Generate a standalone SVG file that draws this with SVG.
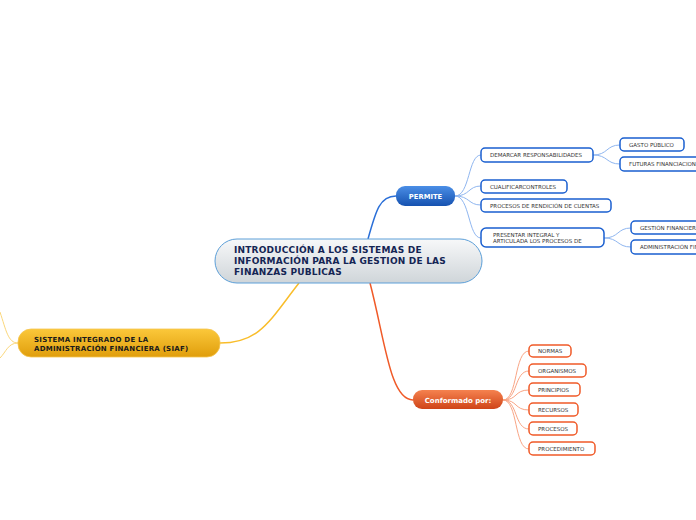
<svg xmlns="http://www.w3.org/2000/svg" width="696" height="520" viewBox="0 0 696 520">
<defs>
<linearGradient id="gCentral" x1="0" y1="0" x2="0" y2="1"><stop offset="0" stop-color="#f7f8f9"/><stop offset="1" stop-color="#cfd5d9"/></linearGradient>
<linearGradient id="gBlue" x1="0" y1="0" x2="0" y2="1"><stop offset="0" stop-color="#4a8ee6"/><stop offset="1" stop-color="#1652b0"/></linearGradient>
<linearGradient id="gOrange" x1="0" y1="0" x2="0" y2="1"><stop offset="0" stop-color="#f5824f"/><stop offset="1" stop-color="#cf4418"/></linearGradient>
<linearGradient id="gYellow" x1="0" y1="0" x2="0" y2="1"><stop offset="0" stop-color="#fbc83a"/><stop offset="1" stop-color="#e09e0c"/></linearGradient>
</defs>
<style>
text{font-family:"DejaVu Sans","Liberation Sans",sans-serif}
.leaf text{font-size:5.5px;fill:#333}
.bl rect{fill:#fff;stroke:#1a5fd0;stroke-width:1.5}
.or rect{fill:#fff;stroke:#f05a28;stroke-width:1.5}
.cb{fill:none;stroke:#8fb6f0;stroke-width:1}
.co{fill:none;stroke:#f9a585;stroke-width:1}
.main{fill:none;stroke-width:1.5}
.title{font-weight:bold;font-size:9px;letter-spacing:0.2px;fill:#142554}
.wt{font-weight:bold;fill:#fff;text-anchor:middle}
</style>
<rect width="696" height="520" fill="#fff"/>
<g id="connectors">
<path class="main" stroke="#2a6fd8" d="M368 239 C376 210,380 196,396 196"/>
<path class="main" stroke="#f05a28" d="M370 283 C385 340,390 400,413 400"/>
<path class="main" stroke="#f9bd2a" d="M299 283 C270 320,260 343,220 343"/>
<path d="M18 343 C8 343,6 330,0 312 M18 343 C8 343,6 352,0 358" fill="none" stroke="#fbd77a" stroke-width="1"/>
<path class="cb" d="M455 196 C470 196,468 155,481 155"/>
<path class="cb" d="M455 196 C470 196,468 186,481 186"/>
<path class="cb" d="M455 196 C470 196,468 205,481 205"/>
<path class="cb" d="M455 196 C470 196,468 238,481 238"/>
<path class="cb" d="M593 155 C608 155,606 145,620 145"/>
<path class="cb" d="M593 155 C608 155,606 164,620 164"/>
<path class="cb" d="M604 238 C619 238,617 228,631 228"/>
<path class="cb" d="M604 238 C619 238,617 247,631 247"/>
<path class="co" d="M503 400 C518 400,514 351,529 351"/>
<path class="co" d="M503 400 C518 400,514 371,529 371"/>
<path class="co" d="M503 400 C518 400,514 390,529 390"/>
<path class="co" d="M503 400 C518 400,514 410,529 410"/>
<path class="co" d="M503 400 C518 400,514 429,529 429"/>
<path class="co" d="M503 400 C518 400,514 449,529 449"/>
</g>
<g id="central">
<rect x="215" y="239" width="267" height="44" rx="22" fill="url(#gCentral)" stroke="#5c9fd8" stroke-width="1"/>
<text class="title" x="234" y="253">INTRODUCCIÓN A LOS SISTEMAS DE</text>
<text class="title" x="234" y="264">INFORMACIÓN PARA LA GESTION DE LAS</text>
<text class="title" x="234" y="275">FINANZAS PUBLICAS</text>
</g>
<g id="permite">
<rect x="396" y="186" width="59" height="20" rx="9" fill="url(#gBlue)"/>
<text class="wt" x="425.5" y="199" font-size="6.8">PERMITE</text>
</g>
<g id="conformado">
<rect x="413" y="390" width="90" height="19" rx="9" fill="url(#gOrange)"/>
<text class="wt" x="458" y="402.5" font-size="7">Conformado por:</text>
</g>
<g id="siaf">
<rect x="18" y="329" width="202" height="28" rx="13" fill="url(#gYellow)" stroke="#f5c550" stroke-width="0.8"/>
<text x="34" y="342" font-size="7" letter-spacing="0.25" font-weight="bold" fill="#1a1a1a">SISTEMA INTEGRADO DE LA</text>
<text x="34" y="350.5" font-size="7" letter-spacing="0.25" font-weight="bold" fill="#1a1a1a">ADMINISTRACIÓN FINANCIERA (SIAF)</text>
</g>
<g id="demarcar" class="leaf bl"><rect x="481" y="148" width="112" height="14" rx="4"/><text x="490" y="157">DEMARCAR RESPONSABILIDADES</text></g>
<g id="cualificar" class="leaf bl"><rect x="481" y="180" width="86" height="13" rx="4"/><text x="490" y="188.5">CUALIFICARCONTROLES</text></g>
<g id="procesos-rendicion" class="leaf bl"><rect x="481" y="199" width="130" height="13" rx="4"/><text x="490" y="207.5">PROCESOS DE RENDICIÓN DE CUENTAS</text></g>
<g id="presentar" class="leaf bl"><rect x="481" y="228" width="123" height="19" rx="5"/><text x="493" y="236.5">PRESENTAR INTEGRAL Y</text><text x="493" y="243">ARTICULADA LOS PROCESOS DE</text></g>
<g id="gasto" class="leaf bl"><rect x="620" y="138" width="64" height="13" rx="4"/><text x="629" y="147">GASTO PÚBLICO</text></g>
<g id="futuras" class="leaf bl"><rect x="620" y="157" width="84" height="14" rx="4"/><text x="629" y="166">FUTURAS FINANCIACIONES</text></g>
<g id="gestion" class="leaf bl"><rect x="631" y="221" width="80" height="13" rx="4"/><text x="640" y="230">GESTIÓN FINANCIERA</text></g>
<g id="administracion" class="leaf bl"><rect x="631" y="240" width="80" height="14" rx="4"/><text x="640" y="249">ADMINISTRACIÓN FINANCIERA</text></g>
<g id="normas" class="leaf or"><rect x="529" y="345" width="42" height="12" rx="4"/><text x="538" y="353">NORMAS</text></g>
<g id="organismos" class="leaf or"><rect x="529" y="364" width="57" height="13" rx="4"/><text x="538" y="373">ORGANISMOS</text></g>
<g id="principios" class="leaf or"><rect x="529" y="383" width="51" height="13" rx="4"/><text x="538" y="392">PRINCIPIOS</text></g>
<g id="recursos" class="leaf or"><rect x="529" y="403" width="49" height="13" rx="4"/><text x="538" y="412">RECURSOS</text></g>
<g id="procesos" class="leaf or"><rect x="529" y="422" width="48" height="13" rx="4"/><text x="538" y="431">PROCESOS</text></g>
<g id="procedimiento" class="leaf or"><rect x="529" y="442" width="66" height="13" rx="4"/><text x="538" y="451">PROCEDIMIENTO</text></g>
</svg>
